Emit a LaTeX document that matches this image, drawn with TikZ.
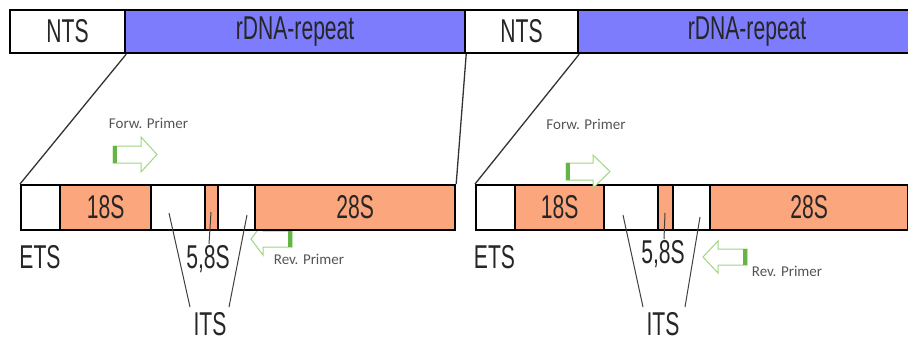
\documentclass[tikz,border=0pt]{standalone}
\usepackage{fontspec}
\newfontfamily\narrowsf[FakeStretch=0.64]{Liberation Sans}
\newfontfamily\smallsf{Carlito}
\definecolor{rdnablue}{RGB}{124,124,252}
\definecolor{rrnaorange}{RGB}{252,166,126}
\definecolor{primeredge}{RGB}{160,214,130}
\definecolor{primertail}{RGB}{100,180,70}
\definecolor{labelgray}{RGB}{85,85,85}
\begin{document}
\begin{tikzpicture}[x=1pt,y=-1pt,
  seg/.style={draw=black,line width=2.2pt,inner sep=0pt,anchor=north west,
    font=\narrowsf\fontsize{33}{33}\selectfont,text=black!85},
  bigseg/.style={seg,minimum height=43pt},
  lowseg/.style={seg,minimum height=45pt},
  biglabel/.style={inner sep=0pt,font=\narrowsf\fontsize{33}{33}\selectfont,text=black!85},
  primerlabel/.style={inner sep=0pt,font=\smallsf\fontsize{15}{15}\selectfont,text=labelgray},
  primer/.style={draw=primeredge,fill=white,line width=1pt,line join=miter},
  primertailbar/.style={draw=primertail,line width=3.5pt},
  zoomline/.style={draw=black!80,line width=1.3pt},
  itsline/.style={draw=black!75,line width=1pt}]
\useasboundingbox (0,0) rectangle (908,341);
\clip (0,0) rectangle (908,341);
\fill[white] (0,0) rectangle (908,341);

% ---------- top bar ----------
\node[bigseg,fill=white,minimum width=115pt] (ntsA) at (9,9) {NTS};
\node[bigseg,fill=rdnablue,minimum width=340pt] (rdnaA) at (124,9) {rDNA-repeat};
\node[bigseg,fill=white,minimum width=113pt] (ntsB) at (464,9) {NTS};
\node[bigseg,fill=rdnablue,minimum width=338pt] (rdnaB) at (577,9) {rDNA-repeat};
\coordinate (rdnaBend) at (917,52);

% ---------- left reverse primer drawn behind bar ----------
\draw[primer] (292,231) -- (263,231) -- (263,223) -- (251,239) -- (263,255) -- (263,247) -- (292,247) -- cycle;
\draw[primertailbar] (290,231) -- (290,247);

% ---------- lower bar left ----------
\node[lowseg,fill=white,minimum width=39pt] (etsA) at (20,184) {};
\node[lowseg,fill=rrnaorange,minimum width=91pt] (ssuA) at (59,184) {18S};
\node[lowseg,fill=white,minimum width=54pt] (itsoneA) at (150,184) {};
\node[lowseg,fill=rrnaorange,minimum width=13pt] (fiveA) at (204,184) {};
\node[lowseg,fill=white,minimum width=37pt] (itstwoA) at (217,184) {};
\node[lowseg,fill=rrnaorange,minimum width=200pt] (lsuA) at (254,184) {28S};

% ---------- lower bar right ----------
\node[lowseg,fill=white,minimum width=39pt] (etsB) at (475,184) {};
\node[lowseg,fill=rrnaorange,minimum width=89pt] (ssuB) at (514,184) {18S};
\node[lowseg,fill=white,minimum width=54pt] (itsoneB) at (603,184) {};
\node[lowseg,fill=rrnaorange,minimum width=15pt] (fiveB) at (657,184) {};
\node[lowseg,fill=white,minimum width=37pt] (itstwoB) at (672,184) {};
\node[lowseg,fill=rrnaorange,minimum width=198pt] (lsuB) at (709,184) {28S};

% ---------- zoom lines ----------
\draw[zoomline] (ntsA.south east) -- (etsA.north west);
\draw[zoomline] (rdnaA.south east) -- (lsuA.north east);
\draw[zoomline] (ntsB.south east) -- (etsB.north west);
\draw[zoomline] (rdnaBend) -- (lsuB.north east);

% ---------- labels ----------
\node[biglabel] (etsLabA) at (40,257.5) {ETS};
\node[biglabel] (etsLabB) at (494.5,257) {ETS};
\node[biglabel] (fiveLabA) at (208,259) {5,8S};
\node[biglabel] (fiveLabB) at (663,254) {5,8S};
\node[biglabel] (itsLabA) at (210,324) {ITS};
\node[biglabel] (itsLabB) at (663,324) {ITS};

% ITS / 5.8S pointer lines
\coordinate (pa1) at (169,213); \coordinate (pa2) at (190,307);
\coordinate (pa3) at (247,215); \coordinate (pa4) at (229,307);
\coordinate (pa5) at (211,212); \coordinate (pa6) at (209,244);
\draw[itsline] (pa1) -- (pa2);
\draw[itsline] (pa3) -- (pa4);
\draw[itsline] (pa5) -- (pa6);
\coordinate (pb1) at (623,215); \coordinate (pb2) at (643,307);
\coordinate (pb3) at (700,217); \coordinate (pb4) at (685,307);
\coordinate (pb5) at (665,213); \coordinate (pb6) at (664,239);
\draw[itsline] (pb1) -- (pb2);
\draw[itsline] (pb3) -- (pb4);
\draw[itsline] (pb5) -- (pb6);

% ---------- primers ----------
\draw[primer] (113,146) -- (141,146) -- (141,137) -- (157,154.5) -- (141,172) -- (141,163) -- (113,163) -- cycle;
\draw[primertailbar] (115,146) -- (115,163);
\draw[primer] (566,163) -- (593,163) -- (593,155) -- (610,171.5) -- (593,188) -- (593,180) -- (566,180) -- cycle;
\draw[primertailbar] (568,163) -- (568,180);
\draw[primer] (747,249) -- (718,249) -- (718,241) -- (703,257) -- (718,273) -- (718,265) -- (747,265) -- cycle;
\draw[primertailbar] (745,249) -- (745,265);

\node[primerlabel] (fwdLabA) at (148.5,123) {Forw. Primer};
\node[primerlabel] (fwdLabB) at (586,124) {Forw. Primer};
\node[primerlabel] (revLabA) at (309,259) {Rev. Primer};
\node[primerlabel] (revLabB) at (787,271) {Rev. Primer};
\end{tikzpicture}
\end{document}
